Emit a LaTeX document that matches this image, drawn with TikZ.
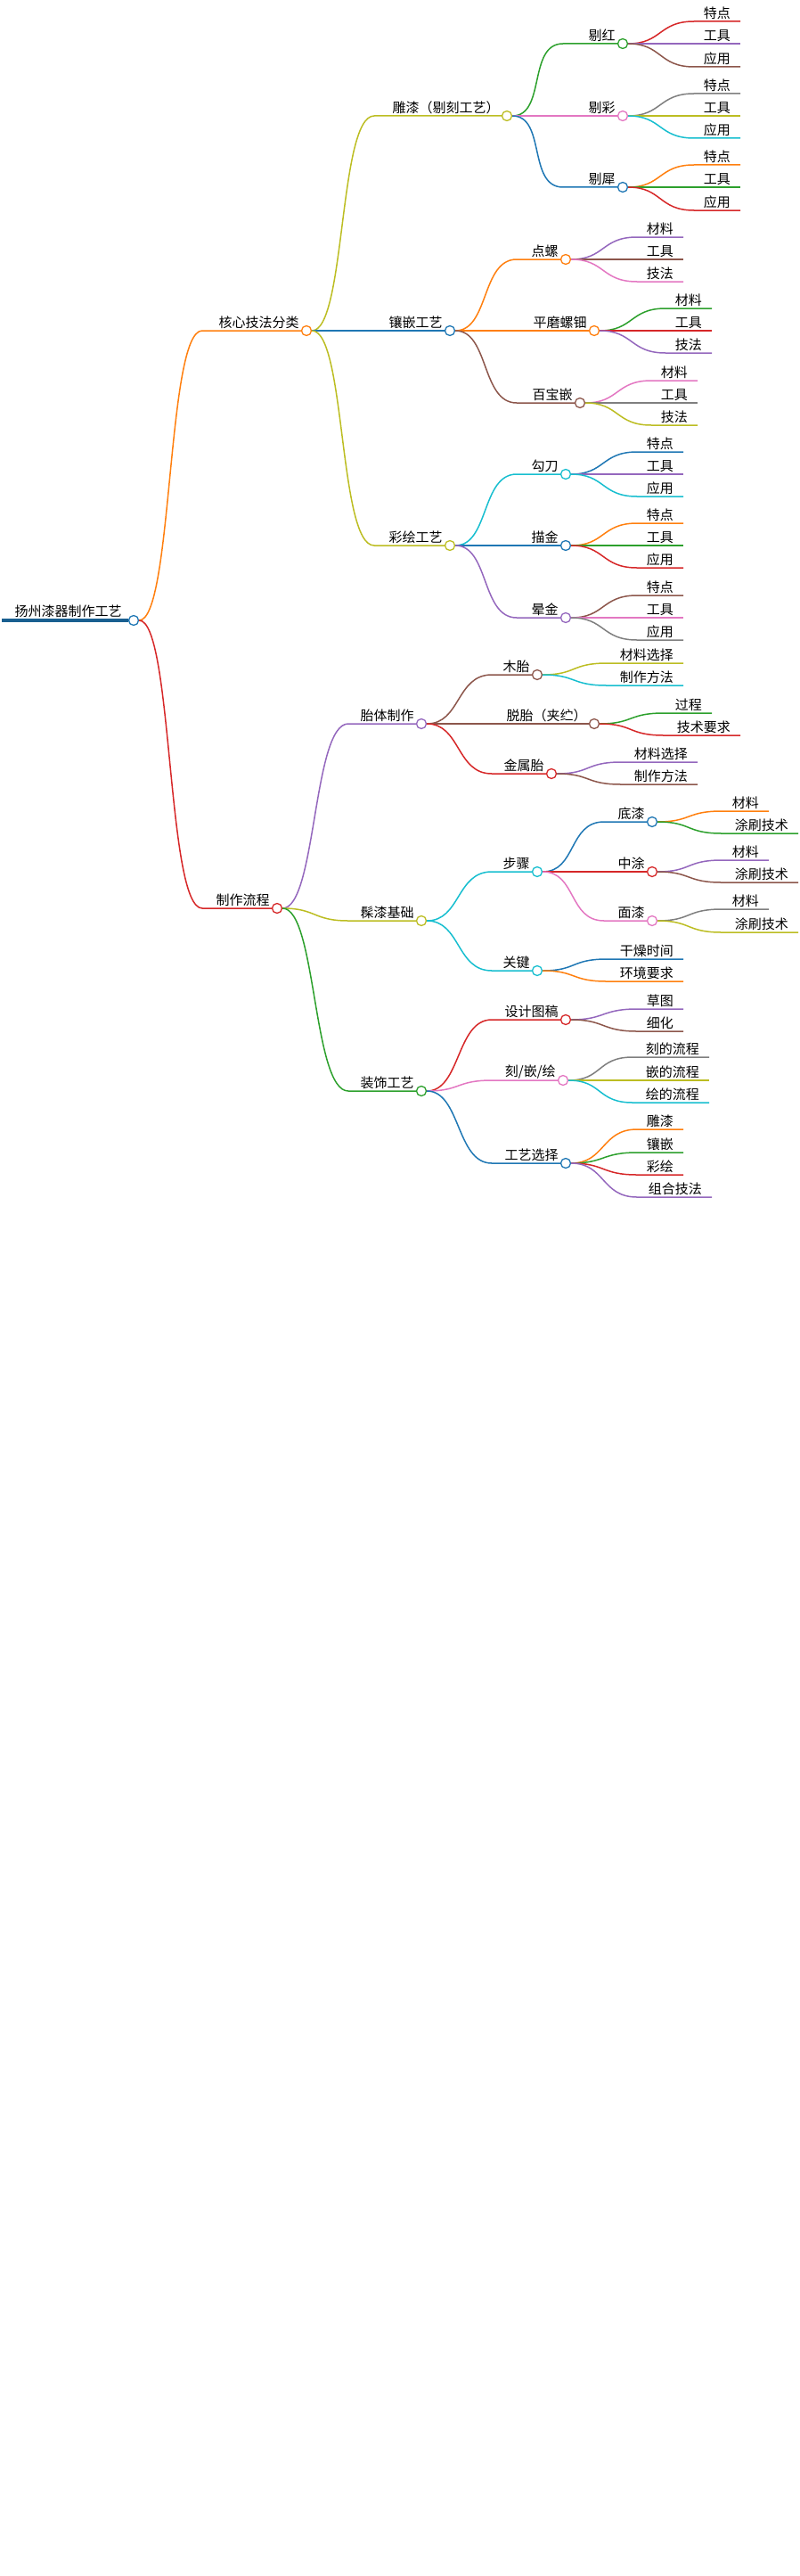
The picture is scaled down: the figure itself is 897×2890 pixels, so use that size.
\documentclass[tikz,border=0pt]{standalone}
\usepackage{fontspec}
\setmainfont{Noto Sans CJK SC}
\definecolor{cO}{HTML}{FF7F0E}\definecolor{cB}{HTML}{1F77B4}\definecolor{cG}{HTML}{2CA02C}
\definecolor{cR}{HTML}{D62728}\definecolor{cP}{HTML}{9467BD}\definecolor{cN}{HTML}{8C564B}
\definecolor{cK}{HTML}{E377C2}\definecolor{cY}{HTML}{7F7F7F}\definecolor{cL}{HTML}{BCBD22}
\definecolor{cC}{HTML}{17BECF}
\newcommand\mm[7]{% name parent xstart xcirc y color text
  \coordinate (#1s) at (#3,#5);
  \node[circ,draw=#6] (#1) at (#4,#5) {};
  \draw[edge,#6] (#2.east) .. controls +(38,0) and +(-40,0) .. (#1s) -- (#1.west);
  \node[lbl,anchor=south east] (#1t) at ([xshift=-1,yshift=1]#1.west) {#7};}
\newcommand\lf[7]{% name parent xstart xend y color text
  \coordinate (#1s) at (#3,#5);
  \coordinate (#1e) at (#4,#5);
  \draw[edge,#6] (#2.east) .. controls +(38,0) and +(-40,0) .. (#1s) -- (#1e);
  \node[lbl,anchor=south east] (#1t) at ([xshift=-10,yshift=1]#1e) {#7};}
\begin{document}
\begin{tikzpicture}[x=1pt,y=-1pt,
  circ/.style={circle,fill=white,line width=1.3pt,minimum size=11pt,inner sep=0pt},
  edge/.style={line width=1.5pt},
  lbl/.style={font=\fontsize{15}{16}\selectfont,inner sep=1pt}]
\useasboundingbox (0,0) rectangle (897,2890);
\coordinate (rs) at (2,696);
\node[circ,draw=cB] (rt) at (150,696) {};
\draw[line width=4pt,cB!80!black] (rs) -- (rt.west);
\node[lbl,anchor=south east] (rtt) at ([xshift=-6,yshift=2]rt.west) {扬州漆器制作工艺};
% core
\mm{a}{rt}{227}{344}{371}{cO}{核心技法分类}
\mm{a1}{a}{420}{569}{130}{cL}{雕漆（剔刻工艺）}
\mm{a2}{a}{420}{505}{371}{cB}{镶嵌工艺}
\mm{a3}{a}{420}{505}{612}{cL}{彩绘工艺}
\mm{a11}{a1}{632}{699}{49}{cG}{剔红}
\mm{a12}{a1}{632}{699}{130}{cK}{剔彩}
\mm{a13}{a1}{632}{699}{210}{cB}{剔犀}
\lf{a111}{a11}{779}{831}{24}{cR}{特点}\lf{a112}{a11}{779}{831}{49}{cP}{工具}\lf{a113}{a11}{779}{831}{75}{cN}{应用}
\lf{a121}{a12}{779}{831}{105}{cY}{特点}\lf{a122}{a12}{779}{831}{130}{cL}{工具}\lf{a123}{a12}{779}{831}{155}{cC}{应用}
\lf{a131}{a13}{779}{831}{185}{cO}{特点}\lf{a132}{a13}{779}{831}{210}{cG}{工具}\lf{a133}{a13}{779}{831}{236}{cR}{应用}
\mm{a21}{a2}{580}{635}{291}{cO}{点螺}
\mm{a22}{a2}{580}{667}{371}{cO}{平磨螺钿}
\mm{a23}{a2}{580}{651}{452}{cN}{百宝嵌}
\lf{a211}{a21}{715}{767}{266}{cP}{材料}\lf{a212}{a21}{715}{767}{291}{cN}{工具}\lf{a213}{a21}{715}{767}{316}{cK}{技法}
\lf{a221}{a22}{747}{799}{346}{cG}{材料}\lf{a222}{a22}{747}{799}{371}{cR}{工具}\lf{a223}{a22}{747}{799}{396}{cP}{技法}
\lf{a231}{a23}{731}{783}{427}{cK}{材料}\lf{a232}{a23}{731}{783}{452}{cY}{工具}\lf{a233}{a23}{731}{783}{477}{cL}{技法}
\mm{a31}{a3}{580}{635}{532}{cC}{勾刀}
\mm{a32}{a3}{580}{635}{612}{cB}{描金}
\mm{a33}{a3}{580}{635}{693}{cP}{晕金}
\lf{a311}{a31}{715}{767}{507}{cB}{特点}\lf{a312}{a31}{715}{767}{532}{cP}{工具}\lf{a313}{a31}{715}{767}{557}{cC}{应用}
\lf{a321}{a32}{715}{767}{587}{cO}{特点}\lf{a322}{a32}{715}{767}{612}{cG}{工具}\lf{a323}{a32}{715}{767}{637}{cR}{应用}
\lf{a331}{a33}{715}{767}{668}{cN}{特点}\lf{a332}{a33}{715}{767}{693}{cK}{工具}\lf{a333}{a33}{715}{767}{718}{cY}{应用}
% process
\mm{b}{rt}{227}{311}{1019}{cR}{制作流程}
\mm{b1}{b}{391}{473}{812}{cP}{胎体制作}
\mm{b2}{b}{391}{473}{1033}{cL}{髹漆基础}
\mm{b3}{b}{391}{473}{1224}{cG}{装饰工艺}
\mm{b11}{b1}{552}{603}{757}{cN}{木胎}
\mm{b12}{b1}{552}{667}{812}{cN}{脱胎（夹纻）}
\mm{b13}{b1}{552}{619}{868}{cR}{金属胎}
\lf{b111}{b11}{681}{767}{744}{cL}{材料选择}\lf{b112}{b11}{681}{767}{769}{cC}{制作方法}
\lf{b121}{b12}{745}{799}{800}{cG}{过程}\lf{b122}{b12}{745}{831}{825}{cR}{技术要求}
\lf{b131}{b13}{697}{783}{855}{cP}{材料选择}\lf{b132}{b13}{697}{783}{880}{cN}{制作方法}
\mm{b21}{b2}{552}{603}{978}{cC}{步骤}
\mm{b22}{b2}{552}{603}{1089}{cC}{关键}
\mm{b211}{b21}{678}{732}{922}{cB}{底漆}
\mm{b212}{b21}{678}{732}{978}{cR}{中涂}
\mm{b213}{b21}{678}{732}{1033}{cK}{面漆}
\lf{b2111}{b211}{810}{863}{910}{cO}{材料}\lf{b2112}{b211}{810}{896}{935}{cG}{涂刷技术}
\lf{b2121}{b212}{810}{863}{965}{cP}{材料}\lf{b2122}{b212}{810}{896}{990}{cN}{涂刷技术}
\lf{b2131}{b213}{810}{863}{1020}{cY}{材料}\lf{b2132}{b213}{810}{896}{1046}{cL}{涂刷技术}
\lf{b221}{b22}{681}{767}{1076}{cB}{干燥时间}\lf{b222}{b22}{681}{767}{1101}{cO}{环境要求}
\mm{b31}{b3}{552}{635}{1144}{cR}{设计图稿}
\mm{b32}{b3}{552}{632}{1212}{cK}{刻/嵌/绘}
\mm{b33}{b3}{552}{635}{1305}{cB}{工艺选择}
\lf{b311}{b31}{715}{767}{1132}{cP}{草图}\lf{b312}{b31}{715}{767}{1157}{cN}{细化}
\lf{b321}{b32}{710}{796}{1186}{cY}{刻的流程}\lf{b322}{b32}{710}{796}{1212}{cL}{嵌的流程}\lf{b323}{b32}{710}{796}{1237}{cC}{绘的流程}
\lf{b331}{b33}{715}{767}{1267}{cO}{雕漆}\lf{b332}{b33}{715}{767}{1293}{cG}{镶嵌}\lf{b333}{b33}{715}{767}{1318}{cR}{彩绘}\lf{b334}{b33}{715}{799}{1343}{cP}{组合技法}
\end{tikzpicture}
\end{document}
